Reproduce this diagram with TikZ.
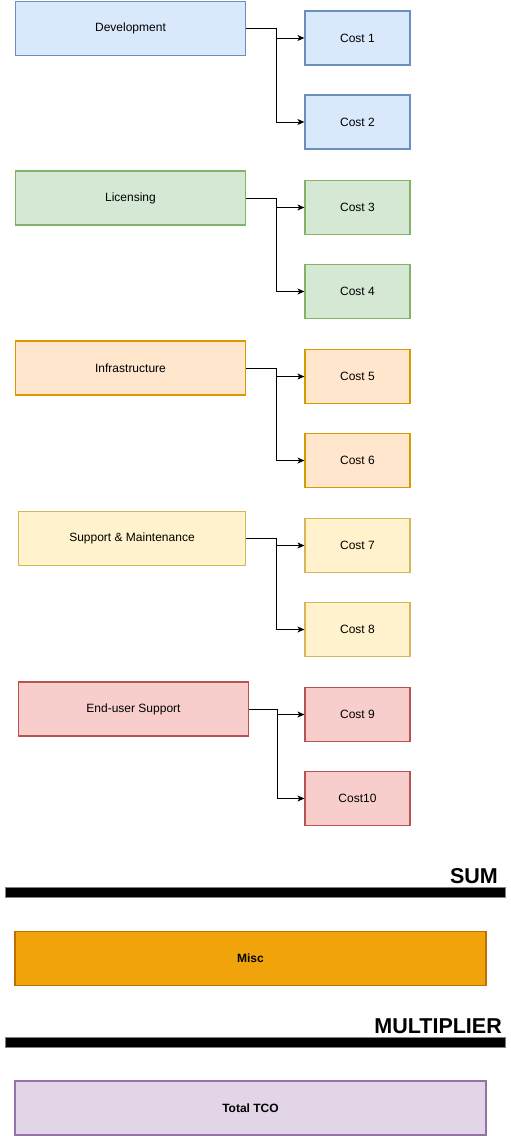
\documentclass[tikz,border=0pt]{standalone}
\usepackage{fontspec}
\setmainfont{Liberation Sans}
\usetikzlibrary{arrows.meta}
\definecolor{bluef}{HTML}{DAE8FC}\definecolor{blued}{HTML}{6C8EBF}
\definecolor{greenf}{HTML}{D5E8D4}\definecolor{greend}{HTML}{82B366}
\definecolor{orangef}{HTML}{FFE6CC}\definecolor{oranged}{HTML}{D79B00}
\definecolor{yellowf}{HTML}{FFF2CC}\definecolor{yellowd}{HTML}{D6B656}
\definecolor{redf}{HTML}{F8CECC}\definecolor{redd}{HTML}{B85450}
\definecolor{miscf}{HTML}{F0A30A}\definecolor{miscd}{HTML}{BD7000}
\definecolor{purplef}{HTML}{E1D5E7}\definecolor{purpled}{HTML}{9673A6}
\tikzset{
  box/.style={draw, line width=1.2pt, inner sep=0pt, minimum height=54pt, font=\fontsize{12}{14}\selectfont},
  catbox/.style={box, minimum width=230pt},
  costbox/.style={box, minimum width=105pt},
  blueb/.style={fill=bluef, draw=blued},
  greenb/.style={fill=greenf, draw=greend},
  orangeb/.style={fill=orangef, draw=oranged},
  yellowb/.style={fill=yellowf, draw=yellowd},
  redb/.style={fill=redf, draw=redd},
  conn/.style={draw=black, line width=1pt, -{Stealth[length=7pt,width=6pt,inset=2pt]}},
  bar/.style={fill=black, draw=gray, line width=0.8pt, minimum width=500pt, minimum height=10pt, inner sep=0pt},
  bigtext/.style={font=\fontsize{21.5}{24}\selectfont\bfseries, inner sep=0pt},
  widebox/.style={box, minimum width=471pt, font=\fontsize{12}{14}\selectfont\bfseries}
}
\begin{document}
\begin{tikzpicture}[x=1pt,y=-1pt]
\useasboundingbox (0,0) rectangle (511,1136);
% categories
\node[catbox, blueb] (dev) at (130.5,28.5) {Development};
\node[catbox, greenb] (lic) at (130.5,198) {Licensing};
\node[catbox, orangeb] (inf) at (130.5,368) {Infrastructure};
\node[catbox, yellowb, minimum width=227pt] (sup) at (132,538.5) {Support \& Maintenance};
\node[catbox, redb] (eus) at (133.5,709) {End-user Support};
% costs
\node[costbox, blueb] (c1) at (357.5,38) {Cost 1};
\node[costbox, blueb] (c2) at (357.5,122) {Cost 2};
\node[costbox, greenb] (c3) at (357.5,207.5) {Cost 3};
\node[costbox, greenb] (c4) at (357.5,291.5) {Cost 4};
\node[costbox, orangeb] (c5) at (357.5,376.5) {Cost 5};
\node[costbox, orangeb] (c6) at (357.5,460.5) {Cost 6};
\node[costbox, yellowb] (c7) at (357.5,545.5) {Cost 7};
\node[costbox, yellowb] (c8) at (357.5,629.5) {Cost 8};
\node[costbox, redb] (c9) at (357.5,714.5) {Cost 9};
\node[costbox, redb] (c10) at (357.5,798.5) {Cost10};
% connectors
\foreach \p/\a/\b in {dev/c1/c2, lic/c3/c4, inf/c5/c6, sup/c7/c8} {
  \draw[conn] (\p.east) -- ++(30.5,0) |- (\a.west);
  \draw[conn] (\p.east) -- ++(30.5,0) |- (\b.west);
}
\draw[conn] (eus.east) -- ++(28,0) |- (c9.west);
\draw[conn] (eus.east) -- ++(28,0) |- (c10.west);
% bottom part
\node[bigtext, anchor=base east] (sumlbl) at (498,883) {SUM};
\node[bar] (sumbar) at (255,892) {};
\node[widebox, fill=miscf, draw=miscd] (misc) at (250.5,958.5) {Misc};
\node[bigtext, anchor=base east] (multlbl) at (502,1033) {MULTIPLIER};
\node[bar] (multbar) at (255,1042) {};
\node[widebox, fill=purplef, draw=purpled] (tco) at (250.5,1108) {Total TCO};
\end{tikzpicture}
\end{document}
